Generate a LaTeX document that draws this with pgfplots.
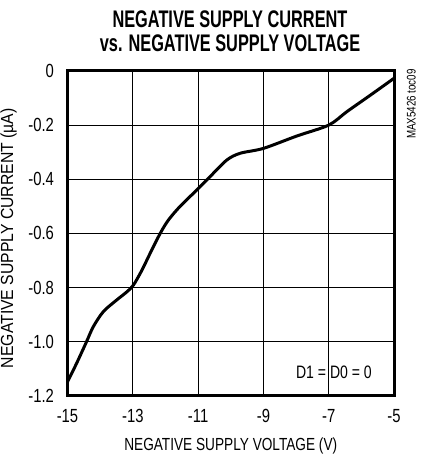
\documentclass[border=0pt]{standalone}
\usepackage{fontspec}
\setmainfont{Liberation Sans}[FakeStretch=0.78]
\newfontfamily\titlefont{Liberation Sans Bold}[FakeStretch=0.68]
\newfontfamily\ylabfont{Liberation Sans}[FakeStretch=0.9]
\usepackage{pgfplots}
\pgfplotsset{compat=1.18}
\begin{document}
\begin{tikzpicture}[x=1pt,y=1pt]
\path[use as bounding box] (0,0) rectangle (435,454);
\begin{axis}[
  at={(67.5pt,58.3pt)}, anchor=south west,
  scale only axis, width=326.5pt, height=324.7pt,
  xmin=-15, xmax=-5, ymin=-1.2, ymax=0,
  xtick={-15,-13,-11,-9,-7,-5},
  xticklabels={-15,-13,-11,-9,-7,-5},
  ytick={-1.2,-1.0,-0.8,-0.6,-0.4,-0.2,0},
  yticklabels={-1.2,-1.0,-0.8,-0.6,-0.4,-0.2,0},
  tick style={draw=none},
  grid=major,
  major grid style={black, line width=0.9pt},
  axis line style={line width=3pt},
  ticklabel style={font=\fontsize{19}{22}\selectfont},
  yticklabel style={anchor=east, xshift=-10pt},
  xticklabel style={anchor=north, yshift=-10pt},
  xlabel={NEGATIVE SUPPLY VOLTAGE (V)},
  ylabel={NEGATIVE SUPPLY CURRENT (\textmu A)},
  xlabel style={font=\fontsize{17.5}{20}\selectfont, inner sep=0pt, at={(axis description cs:0.5,0)}, anchor=center, yshift=-50pt},
  ylabel style={font=\ylabfont\fontsize{17.5}{20}\selectfont, inner sep=0pt, at={(axis description cs:0,0.485)}, anchor=center, yshift=59pt},
  clip=false,
]
\addplot[black, line width=3pt, smooth, tension=0.5] coordinates {
(-15.00,-1.149)
(-14.72,-1.080)
(-14.43,-1.004)
(-14.21,-0.945)
(-13.90,-0.889)
(-13.49,-0.846)
(-13.18,-0.816)
(-12.98,-0.791)
(-12.72,-0.736)
(-12.47,-0.674)
(-12.16,-0.600)
(-11.91,-0.551)
(-11.55,-0.500)
(-10.99,-0.434)
(-10.63,-0.390)
(-10.12,-0.329)
(-9.71,-0.304)
(-9.00,-0.286)
(-7.97,-0.240)
(-7.00,-0.200)
(-6.44,-0.150)
(-5.72,-0.089)
(-5.00,-0.027)
};
\node[font=\fontsize{18}{20}\selectfont, anchor=center] at (axis cs:-6.84,-1.112) {D1 = D0 = 0};
\node[font=\fontsize{12.5}{14}\selectfont, rotate=90, anchor=center] at (axis cs:-4.47,-0.122) {MAX5426 toc09};
\end{axis}
\node[font=\titlefont\fontsize{24}{24}\selectfont, align=center, anchor=center] at (230,423) {NEGATIVE SUPPLY CURRENT\\vs. NEGATIVE SUPPLY VOLTAGE};
\end{tikzpicture}
\end{document}
